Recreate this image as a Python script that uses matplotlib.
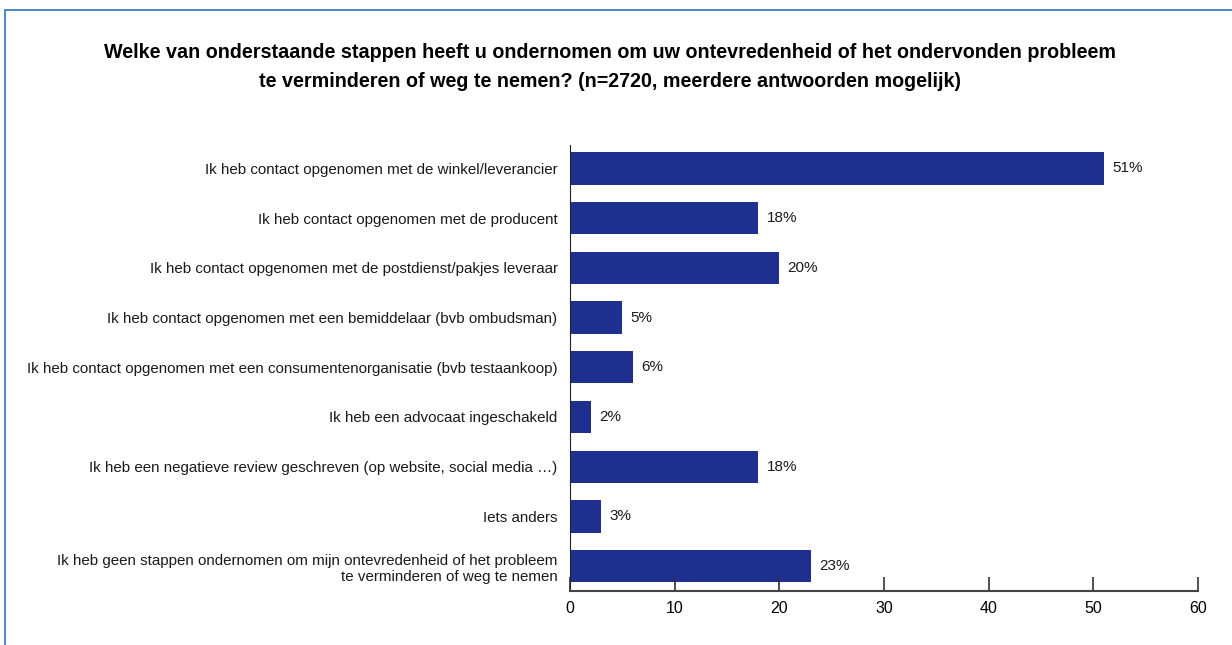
import matplotlib.pyplot as plt
from matplotlib.patches import Rectangle

plt.rcParams['font.family'] = ['Liberation Sans', 'DejaVu Sans']

categories = [
    'Ik heb contact opgenomen met de winkel/leverancier',
    'Ik heb contact opgenomen met de producent',
    'Ik heb contact opgenomen met de postdienst/pakjes leveraar',
    'Ik heb contact opgenomen met een bemiddelaar (bvb ombudsman)',
    'Ik heb contact opgenomen met een consumentenorganisatie (bvb testaankoop)',
    'Ik heb een advocaat ingeschakeld',
    'Ik heb een negatieve review geschreven (op website, social media \u2026)',
    'Iets anders',
    'Ik heb geen stappen ondernomen om mijn ontevredenheid of het probleem\nte verminderen of weg te nemen',
]
values = [51, 18, 20, 5, 6, 2, 18, 3, 23]
xticks = [0, 10, 20, 30, 40, 50, 60]

title = ('Welke van onderstaande stappen heeft u ondernomen om uw ontevredenheid of het ondervonden probleem\n'
         'te verminderen of weg te nemen? (n=2720, meerdere antwoorden mogelijk)')

fig = plt.figure(figsize=(12.32, 6.45), dpi=100)
ax = fig.add_axes([570 / 1232, 1 - 591 / 645, (1198 - 570) / 1232, (591 - 145) / 645])

pos = list(range(len(categories)))
ax.barh(pos, values, height=0.65, color='#1f2f8f')
for p, v in zip(pos, values):
    ax.text(v + 0.8, p, f'{v}%', va='center', ha='left', fontsize=11, color='#1a1a1a')

ax.set_xlim(0, 60)
ax.set_ylim(8.5, -0.47)
ax.set_xticks(xticks)
ax.set_xticklabels([str(t) for t in xticks], fontsize=11.5)
ax.set_yticks(pos)
ax.set_yticklabels(categories, fontsize=10.9, color='#1a1a1a', linespacing=1.25)
ax.tick_params(axis='y', length=0, pad=9)
ax.tick_params(axis='x', direction='in', length=10, width=1.2, color='#333333', pad=7)
ax.spines['top'].set_visible(False)
ax.spines['right'].set_visible(False)
ax.spines['left'].set_color('#222222')
ax.spines['bottom'].set_color('#444444')
ax.spines['bottom'].set_linewidth(1.5)

fig.text(610 / 1232, 1 - 67 / 645, title, ha='center', va='center', fontsize=14.2,
         fontweight='bold', linespacing=1.65)

# outer frame
fig.patches.append(Rectangle((5 / 1232, -0.1), 1.1, 1 - 10 / 645 + 0.1, transform=fig.transFigure,
                             fill=False, edgecolor='#3a7fc4', linewidth=1.3))

fig.savefig('out.png', dpi=100)
